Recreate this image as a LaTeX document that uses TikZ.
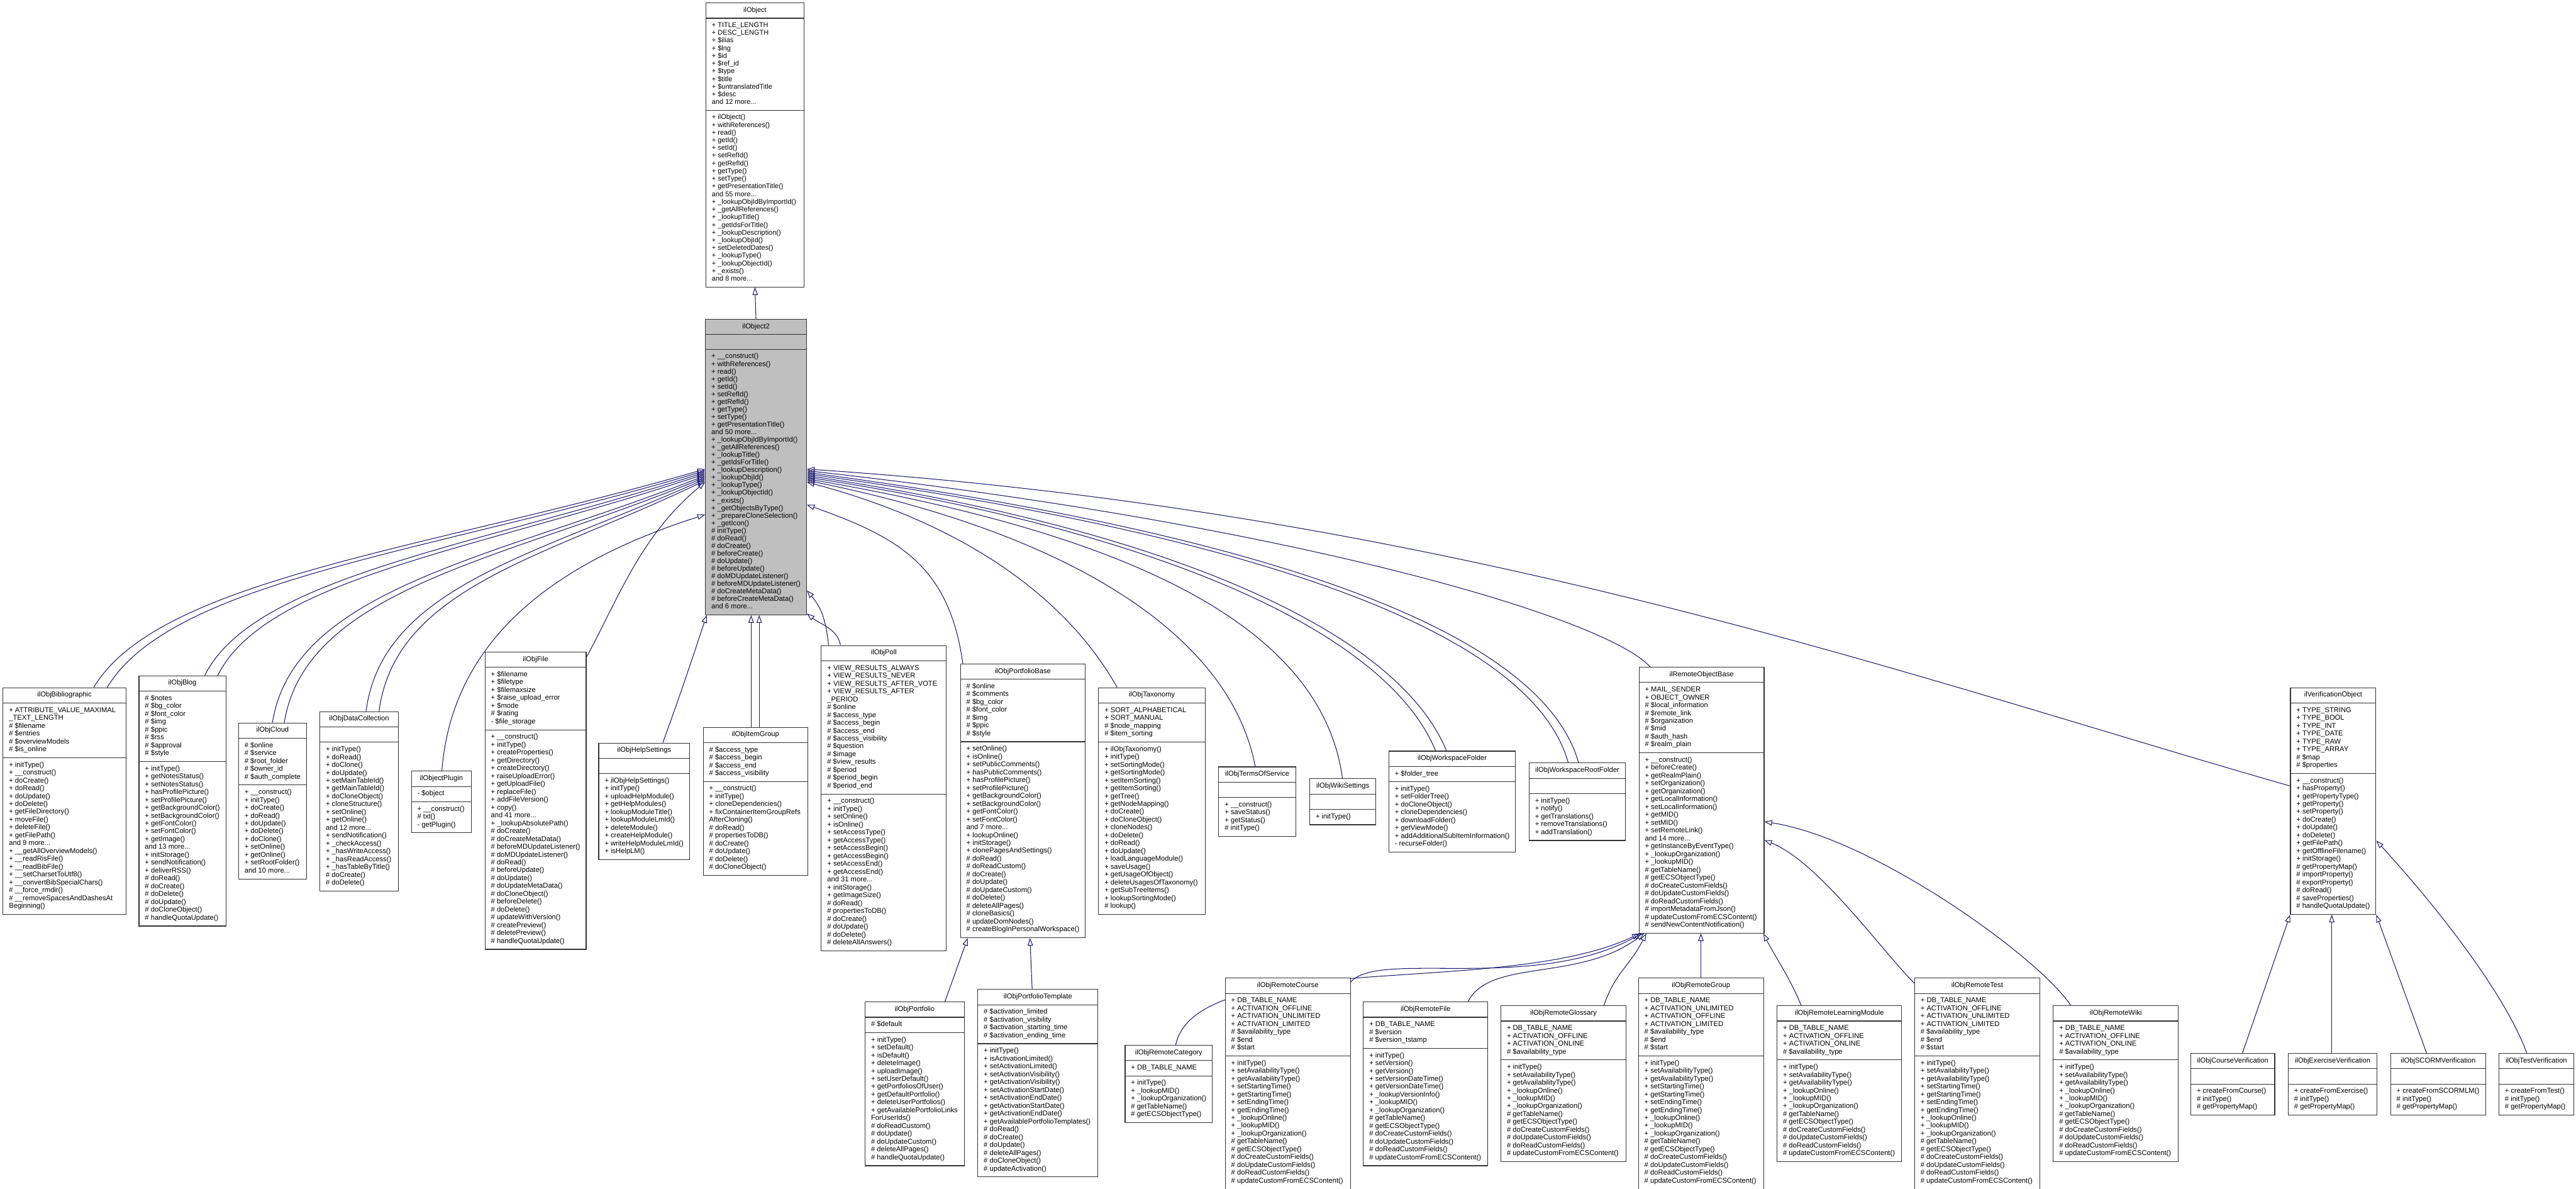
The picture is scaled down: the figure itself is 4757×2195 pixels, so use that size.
\documentclass[tikz,border=0pt]{standalone}
\usepackage{fontspec}
\setmainfont{Liberation Sans}
\usetikzlibrary{shapes.multipart,arrows.meta,calc}
\definecolor{edgecol}{HTML}{191970}
\definecolor{basefill}{HTML}{BFBFBF}
\definecolor{boxline}{HTML}{333333}
\pgfdeclarelayer{bglayer}
\pgfdeclarelayer{edgelayer}
\pgfsetlayers{bglayer,edgelayer,main}
\tikzset{
  cls/.style={rectangle split, rectangle split parts=3,
    rectangle split part align={center,left,left},
    draw=boxline, line width=1.3pt, fill=white, align=left,
    anchor=north west, inner xsep=11pt, inner ysep=6.25pt,
    font=\fontsize{13}{14.5}\selectfont},
  inh/.style={draw=edgecol, line width=1.2pt, -{Triangle[open,length=14pt,width=10pt]}}
}
\newcommand{\umlclass}[7][]{%
  \node[cls,minimum width=#4pt,#1] (#2) at (#3) {\strut#5\strut\nodepart{two}\strut#6\strut\nodepart{three}\strut#7\strut};}
\begin{document}
\begin{tikzpicture}[x=1pt,y=-1pt]
\begin{pgfonlayer}{bglayer}
\fill[white] (0,0) rectangle (4757,2195);
\end{pgfonlayer}
\useasboundingbox (0,0) rectangle (4757,2195);

% ---------------- classes ----------------
\umlclass[font=\fontsize{12.7}{14.2}\selectfont]{obj}{1303,5}{181}{ilObject}
{+ TITLE\_LENGTH\\+ DESC\_LENGTH\\+ \$ilias\\+ \$lng\\+ \$id\\+ \$ref\_id\\+ \$type\\+ \$title\\+ \$untranslatedTitle\\+ \$desc\\and 12 more...}
{+ ilObject()\\+ withReferences()\\+ read()\\+ getId()\\+ setId()\\+ setRefId()\\+ getRefId()\\+ getType()\\+ setType()\\+ getPresentationTitle()\\and 55 more...\\+ \_lookupObjIdByImportId()\\+ \_getAllReferences()\\+ \_lookupTitle()\\+ \_getIdsForTitle()\\+ \_lookupDescription()\\+ \_lookupObjId()\\+ setDeletedDates()\\+ \_lookupType()\\+ \_lookupObjectId()\\+ \_exists()\\and 8 more...}

\umlclass[fill=basefill,font=\fontsize{13}{14}\selectfont]{o2}{1302,589}{186}{ilObject2}{}
{+ \_\_construct()\\+ withReferences()\\+ read()\\+ getId()\\+ setId()\\+ setRefId()\\+ getRefId()\\+ getType()\\+ setType()\\+ getPresentationTitle()\\and 50 more...\\+ \_lookupObjIdByImportId()\\+ \_getAllReferences()\\+ \_lookupTitle()\\+ \_getIdsForTitle()\\+ \_lookupDescription()\\+ \_lookupObjId()\\+ \_lookupType()\\+ \_lookupObjectId()\\+ \_exists()\\+ \_getObjectsByType()\\+ \_prepareCloneSelection()\\+ \_getIcon()\\\# initType()\\\# doRead()\\\# doCreate()\\\# beforeCreate()\\\# doUpdate()\\\# beforeUpdate()\\\# doMDUpdateListener()\\\# beforeMDUpdateListener()\\\# doCreateMetaData()\\\# beforeCreateMetaData()\\and 6 more...}

\umlclass{bib}{5,1269}{227}{ilObjBibliographic}
{+ ATTRIBUTE\_VALUE\_MAXIMAL\\\_TEXT\_LENGTH\\\# \$filename\\\# \$entries\\\# \$overviewModels\\\# \$is\_online}
{+ initType()\\+ \_\_construct()\\+ doCreate()\\+ doRead()\\+ doUpdate()\\+ doDelete()\\+ getFileDirectory()\\+ moveFile()\\+ deleteFile()\\+ getFilePath()\\and 9 more...\\+ \_\_getAllOverviewModels()\\+ \_\_readRisFile()\\+ \_\_readBibFile()\\+ \_\_setCharsetToUtf8()\\+ \_\_convertBibSpecialChars()\\\# \_\_force\_rmdir()\\\# \_\_removeSpacesAndDashesAt\\Beginning()}

\umlclass{blog}{256,1247}{160}{ilObjBlog}
{\# \$notes\\\# \$bg\_color\\\# \$font\_color\\\# \$img\\\# \$ppic\\\# \$rss\\\# \$approval\\\# \$style}
{+ initType()\\+ getNotesStatus()\\+ setNotesStatus()\\+ hasProfilePicture()\\+ setProfilePicture()\\+ getBackgroundColor()\\+ setBackgroundColor()\\+ getFontColor()\\+ setFontColor()\\+ getImage()\\and 13 more...\\+ initStorage()\\+ sendNotification()\\+ deliverRSS()\\\# doRead()\\\# doCreate()\\\# doDelete()\\\# doUpdate()\\\# doCloneObject()\\\# handleQuotaUpdate()}

\umlclass{cloud}{440,1334}{125}{ilObjCloud}
{\# \$online\\\# \$service\\\# \$root\_folder\\\# \$owner\_id\\\# \$auth\_complete}
{+ \_\_construct()\\+ initType()\\+ doCreate()\\+ doRead()\\+ doUpdate()\\+ doDelete()\\+ doClone()\\+ setOnline()\\+ getOnline()\\+ setRootFolder()\\and 10 more...}

\umlclass{dc}{590,1313}{145}{ilObjDataCollection}{}
{+ initType()\\+ doRead()\\+ doClone()\\+ doUpdate()\\+ setMainTableId()\\+ getMainTableId()\\+ doCloneObject()\\+ cloneStructure()\\+ setOnline()\\+ getOnline()\\and 12 more...\\+ sendNotification()\\+ \_checkAccess()\\+ \_hasWriteAccess()\\+ \_hasReadAccess()\\+ \_hasTableByTitle()\\\# doCreate()\\\# doDelete()}

\umlclass{plugin}{759,1423}{111}{ilObjectPlugin}
{- \$object}
{+ \_\_construct()\\\# txt()\\- getPlugin()}

\umlclass{file}{895,1203}{186}{ilObjFile}
{+ \$filename\\+ \$filetype\\+ \$filemaxsize\\+ \$raise\_upload\_error\\+ \$mode\\\# \$rating\\- \$file\_storage}
{+ \_\_construct()\\+ initType()\\+ createProperties()\\+ getDirectory()\\+ createDirectory()\\+ raiseUploadError()\\+ getUploadFile()\\+ replaceFile()\\+ addFileVersion()\\+ copy()\\and 41 more...\\+ \_lookupAbsolutePath()\\\# doCreate()\\\# doCreateMetaData()\\\# beforeMDUpdateListener()\\\# doMDUpdateListener()\\\# doRead()\\\# beforeUpdate()\\\# doUpdate()\\\# doUpdateMetaData()\\\# doCloneObject()\\\# beforeDelete()\\\# doDelete()\\\# updateWithVersion()\\\# createPreview()\\\# deletePreview()\\\# handleQuotaUpdate()}

\umlclass{help}{1105,1371}{168}{ilObjHelpSettings}{}
{+ ilObjHelpSettings()\\+ initType()\\+ uploadHelpModule()\\+ getHelpModules()\\+ lookupModuleTitle()\\+ lookupModuleLmId()\\+ deleteModule()\\+ createHelpModule()\\+ writeHelpModuleLmId()\\+ isHelpLM()}

\umlclass{itemgroup}{1298,1342}{193}{ilObjItemGroup}
{\# \$access\_type\\\# \$access\_begin\\\# \$access\_end\\\# \$access\_visibility}
{+ \_\_construct()\\+ initType()\\+ cloneDependencies()\\+ fixContainerItemGroupRefs\\AfterCloning()\\\# doRead()\\\# propertiesToDB()\\\# doCreate()\\\# doUpdate()\\\# doDelete()\\\# doCloneObject()}

\umlclass{poll}{1516,1191}{231}{ilObjPoll}
{+ VIEW\_RESULTS\_ALWAYS\\+ VIEW\_RESULTS\_NEVER\\+ VIEW\_RESULTS\_AFTER\_VOTE\\+ VIEW\_RESULTS\_AFTER\\\_PERIOD\\\# \$online\\\# \$access\_type\\\# \$access\_begin\\\# \$access\_end\\\# \$access\_visibility\\\# \$question\\\# \$image\\\# \$view\_results\\\# \$period\\\# \$period\_begin\\\# \$period\_end}
{+ \_\_construct()\\+ initType()\\+ setOnline()\\+ isOnline()\\+ setAccessType()\\+ getAccessType()\\+ setAccessBegin()\\+ getAccessBegin()\\+ setAccessEnd()\\+ getAccessEnd()\\and 31 more...\\+ initStorage()\\+ getImageSize()\\\# doRead()\\\# propertiesToDB()\\\# doCreate()\\\# doUpdate()\\\# doDelete()\\\# deleteAllAnswers()}

\umlclass{pfbase}{1773,1225}{230}{ilObjPortfolioBase}
{\# \$online\\\# \$comments\\\# \$bg\_color\\\# \$font\_color\\\# \$img\\\# \$ppic\\\# \$style}
{+ setOnline()\\+ isOnline()\\+ setPublicComments()\\+ hasPublicComments()\\+ hasProfilePicture()\\+ setProfilePicture()\\+ getBackgroundColor()\\+ setBackgroundColor()\\+ getFontColor()\\+ setFontColor()\\and 7 more...\\+ lookupOnline()\\+ initStorage()\\+ clonePagesAndSettings()\\\# doRead()\\\# doReadCustom()\\\# doCreate()\\\# doUpdate()\\\# doUpdateCustom()\\\# doDelete()\\\# deleteAllPages()\\\# cloneBasics()\\\# updateDomNodes()\\\# createBlogInPersonalWorkspace()}

\umlclass{tax}{2028,1269}{197}{ilObjTaxonomy}
{+ SORT\_ALPHABETICAL\\+ SORT\_MANUAL\\\# \$node\_mapping\\\# \$item\_sorting}
{+ ilObjTaxonomy()\\+ initType()\\+ setSortingMode()\\+ getSortingMode()\\+ setItemSorting()\\+ getItemSorting()\\+ getTree()\\+ getNodeMapping()\\+ doCreate()\\+ doCloneObject()\\+ cloneNodes()\\+ doDelete()\\+ doRead()\\+ doUpdate()\\+ loadLanguageModule()\\+ saveUsage()\\+ getUsageOfObject()\\+ deleteUsagesOfTaxonomy()\\+ getSubTreeItems()\\+ lookupSortingMode()\\\# lookup()}

\umlclass{tos}{2250,1415}{142}{ilObjTermsOfService}{}
{+ \_\_construct()\\+ saveStatus()\\+ getStatus()\\\# initType()}

\umlclass{wiki}{2418,1437}{122}{ilObjWikiSettings}{}
{+ initType()}

\umlclass{wsf}{2564,1386}{234}{ilObjWorkspaceFolder}
{+ \$folder\_tree}
{+ initType()\\+ setFolderTree()\\+ doCloneObject()\\+ cloneDependencies()\\+ downloadFolder()\\+ getViewMode()\\+ addAdditionalSubItemInformation()\\- recurseFolder()}

\umlclass{wsrf}{2823,1408}{178}{ilObjWorkspaceRootFolder}{}
{+ initType()\\+ notify()\\+ getTranslations()\\+ removeTranslations()\\+ addTranslation()}

\umlclass{rob}{3026,1231}{231}{ilRemoteObjectBase}
{+ MAIL\_SENDER\\+ OBJECT\_OWNER\\\# \$local\_information\\\# \$remote\_link\\\# \$organization\\\# \$mid\\\# \$auth\_hash\\\# \$realm\_plain}
{+ \_\_construct()\\+ beforeCreate()\\+ getRealmPlain()\\+ setOrganization()\\+ getOrganization()\\+ getLocalInformation()\\+ setLocalInformation()\\+ getMID()\\+ setMID()\\+ setRemoteLink()\\and 14 more...\\+ getInstanceByEventType()\\+ \_lookupOrganization()\\+ \_lookupMID()\\\# getTableName()\\\# getECSObjectType()\\\# doCreateCustomFields()\\\# doUpdateCustomFields()\\\# doReadCustomFields()\\\# importMetadataFromJson()\\\# updateCustomFromECSContent()\\\# sendNewContentNotification()}

\umlclass{ver}{4229,1269}{155}{ilVerificationObject}
{+ TYPE\_STRING\\+ TYPE\_BOOL\\+ TYPE\_INT\\+ TYPE\_DATE\\+ TYPE\_RAW\\+ TYPE\_ARRAY\\\# \$map\\\# \$properties}
{+ \_\_construct()\\+ hasProperty()\\+ getPropertyType()\\+ getProperty()\\+ setProperty()\\+ doCreate()\\+ doUpdate()\\+ doDelete()\\+ getFilePath()\\+ getOfflineFilename()\\+ initStorage()\\\# getPropertyMap()\\\# importProperty()\\\# exportProperty()\\\# doRead()\\\# saveProperties()\\\# handleQuotaUpdate()}

\umlclass{portfolio}{1597,1849}{183}{ilObjPortfolio}
{\# \$default}
{+ initType()\\+ setDefault()\\+ isDefault()\\+ deleteImage()\\+ uploadImage()\\+ setUserDefault()\\+ getPortfoliosOfUser()\\+ getDefaultPortfolio()\\+ deleteUserPortfolios()\\+ getAvailablePortfolioLinks\\ForUserIds()\\\# doReadCustom()\\\# doUpdate()\\\# doUpdateCustom()\\\# deleteAllPages()\\\# handleQuotaUpdate()}

\umlclass{pftpl}{1805,1826}{222}{ilObjPortfolioTemplate}
{\# \$activation\_limited\\\# \$activation\_visibility\\\# \$activation\_starting\_time\\\# \$activation\_ending\_time}
{+ initType()\\+ isActivationLimited()\\+ setActivationLimited()\\+ setActivationVisibility()\\+ getActivationVisibility()\\+ setActivationStartDate()\\+ setActivationEndDate()\\+ getActivationStartDate()\\+ getActivationEndDate()\\+ getAvailablePortfolioTemplates()\\\# doRead()\\\# doCreate()\\\# doUpdate()\\\# deleteAllPages()\\\# doCloneObject()\\\# updateActivation()}

\umlclass{rcat}{2077,1929}{160}{ilObjRemoteCategory}
{+ DB\_TABLE\_NAME}
{+ initType()\\+ \_lookupMID()\\+ \_lookupOrganization()\\\# getTableName()\\\# getECSObjectType()}

\umlclass{rcourse}{2262,1805}{231}{ilObjRemoteCourse}
{+ DB\_TABLE\_NAME\\+ ACTIVATION\_OFFLINE\\+ ACTIVATION\_UNLIMITED\\+ ACTIVATION\_LIMITED\\\# \$availability\_type\\\# \$end\\\# \$start}
{+ initType()\\+ setAvailabilityType()\\+ getAvailabilityType()\\+ setStartingTime()\\+ getStartingTime()\\+ setEndingTime()\\+ getEndingTime()\\+ \_lookupOnline()\\+ \_lookupMID()\\+ \_lookupOrganization()\\\# getTableName()\\\# getECSObjectType()\\\# doCreateCustomFields()\\\# doUpdateCustomFields()\\\# doReadCustomFields()\\\# updateCustomFromECSContent()}

\umlclass{rfile}{2517,1849}{230}{ilObjRemoteFile}
{+ DB\_TABLE\_NAME\\\# \$version\\\# \$version\_tstamp}
{+ initType()\\+ setVersion()\\+ getVersion()\\+ setVersionDateTime()\\+ getVersionDateTime()\\+ \_lookupVersionInfo()\\+ \_lookupMID()\\+ \_lookupOrganization()\\\# getTableName()\\\# getECSObjectType()\\\# doCreateCustomFields()\\\# doUpdateCustomFields()\\\# doReadCustomFields()\\\# updateCustomFromECSContent()}

\umlclass{rgloss}{2771,1856}{231}{ilObjRemoteGlossary}
{+ DB\_TABLE\_NAME\\+ ACTIVATION\_OFFLINE\\+ ACTIVATION\_ONLINE\\\# \$availability\_type}
{+ initType()\\+ setAvailabilityType()\\+ getAvailabilityType()\\+ \_lookupOnline()\\+ \_lookupMID()\\+ \_lookupOrganization()\\\# getTableName()\\\# getECSObjectType()\\\# doCreateCustomFields()\\\# doUpdateCustomFields()\\\# doReadCustomFields()\\\# updateCustomFromECSContent()}

\umlclass{rgroup}{3025,1805}{231}{ilObjRemoteGroup}
{+ DB\_TABLE\_NAME\\+ ACTIVATION\_UNLIMITED\\+ ACTIVATION\_OFFLINE\\+ ACTIVATION\_LIMITED\\\# \$availability\_type\\\# \$end\\\# \$start}
{+ initType()\\+ setAvailabilityType()\\+ getAvailabilityType()\\+ setStartingTime()\\+ getStartingTime()\\+ setEndingTime()\\+ getEndingTime()\\+ \_lookupOnline()\\+ \_lookupMID()\\+ \_lookupOrganization()\\\# getTableName()\\\# getECSObjectType()\\\# doCreateCustomFields()\\\# doUpdateCustomFields()\\\# doReadCustomFields()\\\# updateCustomFromECSContent()}

\umlclass{rlm}{3281,1856}{230}{ilObjRemoteLearningModule}
{+ DB\_TABLE\_NAME\\+ ACTIVATION\_OFFLINE\\+ ACTIVATION\_ONLINE\\\# \$availability\_type}
{+ initType()\\+ setAvailabilityType()\\+ getAvailabilityType()\\+ \_lookupOnline()\\+ \_lookupMID()\\+ \_lookupOrganization()\\\# getTableName()\\\# getECSObjectType()\\\# doCreateCustomFields()\\\# doUpdateCustomFields()\\\# doReadCustomFields()\\\# updateCustomFromECSContent()}

\umlclass{rtest}{3535,1805}{231}{ilObjRemoteTest}
{+ DB\_TABLE\_NAME\\+ ACTIVATION\_OFFLINE\\+ ACTIVATION\_UNLIMITED\\+ ACTIVATION\_LIMITED\\\# \$availability\_type\\\# \$end\\\# \$start}
{+ initType()\\+ setAvailabilityType()\\+ getAvailabilityType()\\+ setStartingTime()\\+ getStartingTime()\\+ setEndingTime()\\+ getEndingTime()\\+ \_lookupOnline()\\+ \_lookupMID()\\+ \_lookupOrganization()\\\# getTableName()\\\# getECSObjectType()\\\# doCreateCustomFields()\\\# doUpdateCustomFields()\\\# doReadCustomFields()\\\# updateCustomFromECSContent()}

\umlclass{rwiki}{3791,1856}{231}{ilObjRemoteWiki}
{+ DB\_TABLE\_NAME\\+ ACTIVATION\_OFFLINE\\+ ACTIVATION\_ONLINE\\\# \$availability\_type}
{+ initType()\\+ setAvailabilityType()\\+ getAvailabilityType()\\+ \_lookupOnline()\\+ \_lookupMID()\\+ \_lookupOrganization()\\\# getTableName()\\\# getECSObjectType()\\\# doCreateCustomFields()\\\# doUpdateCustomFields()\\\# doReadCustomFields()\\\# updateCustomFromECSContent()}

\umlclass{vcourse}{4045,1944}{155}{ilObjCourseVerification}{}
{+ createFromCourse()\\\# initType()\\\# getPropertyMap()}
\umlclass{vex}{4225,1944}{164}{ilObjExerciseVerification}{}
{+ createFromExercise()\\\# initType()\\\# getPropertyMap()}
\umlclass{vscorm}{4414,1944}{176}{ilObjSCORMVerification}{}
{+ createFromSCORMLM()\\\# initType()\\\# getPropertyMap()}
\umlclass{vtest}{4614,1944}{138}{ilObjTestVerification}{}
{+ createFromTest()\\\# initType()\\\# getPropertyMap()}

% ---------------- inheritance edges ----------------
\begin{pgfonlayer}{edgelayer}
\draw[inh] (o2.north) -- (obj.south);
% left fan into ilObject2
\draw[inh] ($(bib.north west)+(168,0)$) .. controls +(120,-200) and +(-520,150) .. ($(o2.north west)+(0,277)$);
\draw[inh] ($(bib.north west)+(193,0)$) .. controls +(120,-200) and +(-500,150) .. ($(o2.north west)+(0,280)$);
\draw[inh] ($(blog.north west)+(122,0)$) .. controls +(90,-180) and +(-440,140) .. ($(o2.north west)+(0,283)$);
\draw[inh] ($(blog.north west)+(146,0)$) .. controls +(90,-180) and +(-420,140) .. ($(o2.north west)+(0,286)$);
\draw[inh] ($(cloud.north west)+(63,0)$) .. controls +(40,-250) and +(-380,150) .. ($(o2.north west)+(0,289)$);
\draw[inh] ($(cloud.north west)+(85,0)$) .. controls +(40,-250) and +(-360,150) .. ($(o2.north west)+(0,292)$);
\draw[inh] ($(dc.north west)+(86,0)$) .. controls +(30,-230) and +(-310,140) .. ($(o2.north west)+(0,295)$);
\draw[inh] ($(dc.north west)+(110,0)$) .. controls +(30,-230) and +(-290,140) .. ($(o2.north west)+(0,298)$);
\draw[inh] ($(file.north east)+(0,10)$) .. controls +(60,-110) and +(-120,100) .. ($(o2.north west)+(0,301)$);
\draw[inh] ($(plugin.north west)+(57,0)$) .. controls +(20,-260) and +(-250,80) .. ($(o2.north west)+(0,361)$);
\draw[inh] ($(help.north west)+(119,0)$) .. controls +(40,-110) and +(-20,60) .. ($(o2.south west)+(3,0)$);
% straight below
\draw[inh] ($(itemgroup.north west)+(89,0)$) coordinate (ig1) -- (ig1 |- o2.south);
\draw[inh] ($(itemgroup.north west)+(104,0)$) coordinate (ig2) -- (ig2 |- o2.south);
% right side into ilObject2
\draw[inh] ($(poll.north west)+(14,0)$) .. controls +(-5,-50) and +(25,30) .. ($(o2.north east)+(0,501)$);
\draw[inh] ($(poll.north west)+(36,0)$) .. controls +(-5,-30) and +(25,20) .. ($(o2.south east)+(0,-3)$);
\draw[inh] ($(pfbase.north west)+(5,0)$) .. controls +(-25,-180) and +(170,60) .. ($(o2.north east)+(0,343)$);
\draw[inh] ($(tax.north west)+(35,0)$) .. controls +(-90,-160) and +(300,80) .. ($(o2.north east)+(0,301)$);
\draw[inh] ($(tos.north west)+(68,0)$) .. controls +(-50,-260) and +(450,90) .. ($(o2.north east)+(0,298)$);
\draw[inh] ($(wiki.north west)+(61,0)$) .. controls +(-40,-300) and +(550,95) .. ($(o2.north east)+(0,295)$);
\draw[inh] ($(wsf.north west)+(87,0)$) .. controls +(-90,-220) and +(650,100) .. ($(o2.north east)+(0,292)$);
\draw[inh] ($(wsf.north west)+(107,0)$) .. controls +(-90,-220) and +(670,100) .. ($(o2.north east)+(0,289)$);
\draw[inh] ($(wsrf.north west)+(73,0)$) .. controls +(-70,-250) and +(800,110) .. ($(o2.north east)+(0,286)$);
\draw[inh] ($(wsrf.north west)+(92,0)$) .. controls +(-70,-250) and +(820,110) .. ($(o2.north east)+(0,283)$);
\draw[inh] ($(rob.north west)+(21,0)$) .. controls +(-80,-90) and +(900,100) .. ($(o2.north east)+(0,280)$);
\draw[inh] ($(ver.north west)+(0,182)$) .. controls +(-700,-200) and +(1200,80) .. ($(o2.north east)+(0,277)$);
% ilObjPortfolioBase children
\draw[inh] ($(portfolio.north west)+(148,0)$) -- ($(pfbase.south west)+(14,0)$);
\draw[inh] ($(pftpl.north west)+(101,0)$) -- ($(pfbase.south west)+(129,0)$);
% ilRemoteObjectBase children
\draw[inh] ($(rcat.north west)+(94,0)$) .. controls +(40,-180) and +(-250,120) .. ($(rob.south west)+(2,0)$);
\draw[inh] ($(rcourse.north east)+(0,8)$) .. controls +(50,-60) and +(-200,110) .. ($(rob.south west)+(6,0)$);
\draw[inh] ($(rfile.north west)+(194,0)$) .. controls +(40,-80) and +(-120,90) .. ($(rob.south west)+(10,0)$);
\draw[inh] ($(rgloss.north west)+(191,0)$) .. controls +(20,-60) and +(-30,60) .. ($(rob.south west)+(14,0)$);
\draw[inh] ($(rgroup.north west)+(116,0)$) coordinate (rg) -- (rg |- rob.south);
\draw[inh] ($(rlm.north west)+(45,0)$) .. controls +(-20,-50) and +(20,40) .. ($(rob.south east)+(-2,0)$);
\draw[inh] ($(rtest.north west)+(0,10)$) .. controls +(-60,-60) and +(100,40) .. ($(rob.north east)+(0,320)$);
\draw[inh] ($(rwiki.north west)+(33,0)$) .. controls +(-60,-90) and +(200,30) .. ($(rob.north east)+(0,286)$);
% ilVerificationObject children
\draw[inh] ($(vcourse.north west)+(96,0)$) -- (ver.south west);
\draw[inh] ($(vex.north west)+(81,0)$) coordinate (vx) -- (vx |- ver.south);
\draw[inh] ($(vscorm.north west)+(67,0)$) -- (ver.south east);
\draw[inh] ($(vtest.north west)+(52,0)$) .. controls +(-40,-110) and +(110,120) .. ($(ver.north east)+(0,283)$);
\end{pgfonlayer}
\end{tikzpicture}
\end{document}
